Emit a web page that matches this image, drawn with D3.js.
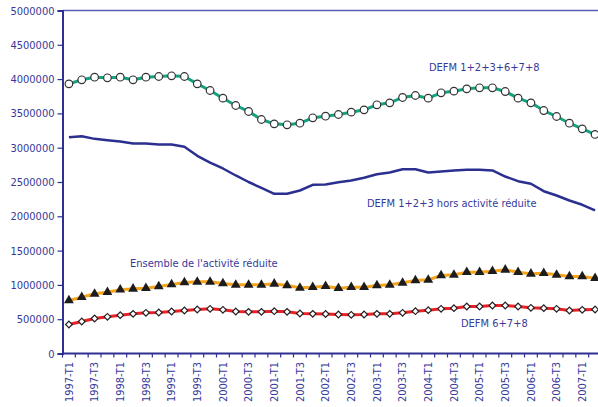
<!DOCTYPE html>
<html>
<head>
<meta charset="utf-8">
<script src="https://cdn.jsdelivr.net/npm/d3@7"></script>
<style>
  body { margin: 0; background: #fff; }
  text { font-family: "DejaVu Sans Condensed", "DejaVu Sans", sans-serif; }
</style>
</head>
<body>
<div id="chart"></div>
<script>
// quarters 1997-T1 .. 2007-T2
let quarters = [];
for (let yr = 1997; yr <= 2007; yr++)
  for (let q = 1; q <= 4; q++) quarters.push(yr + "-T" + q);
quarters = quarters.slice(0, 42);

let yTicks = [0, 500000, 1000000, 1500000, 2000000, 2500000, 3000000, 3500000, 4000000, 4500000, 5000000];

// DEFM 1+2+3+6+7+8
let defmTotal = [3931000, 3990000, 4028000, 4019000, 4028000, 3990000, 4028000, 4038000, 4048000, 4038000,
  3931000, 3834000, 3722000, 3615000, 3528000, 3411000, 3348000, 3334000, 3357000, 3436000,
  3459000, 3484000, 3518000, 3552000, 3625000, 3654000, 3732000, 3761000, 3722000, 3800000,
  3824000, 3858000, 3873000, 3873000, 3819000, 3722000, 3654000, 3542000, 3455000, 3357000,
  3275000, 3193000];

// DEFM 1+2+3 hors activité réduite
let defmHorsAR = [3153000, 3168000, 3129000, 3110000, 3090000, 3061000, 3061000, 3047000, 3047000, 3013000,
  2882000, 2784000, 2697000, 2595000, 2500000, 2413000, 2328000, 2328000, 2376000, 2459000,
  2464000, 2497000, 2522000, 2561000, 2614000, 2638000, 2687000, 2687000, 2638000, 2653000,
  2668000, 2678000, 2678000, 2668000, 2580000, 2512000, 2474000, 2366000, 2303000, 2230000,
  2168000, 2085000];

// Ensemble de l'activité réduite
let activiteReduite = [773000, 821000, 870000, 894000, 929000, 943000, 952000, 977000, 1006000, 1035000,
  1045000, 1045000, 1020000, 1001000, 1001000, 1001000, 1016000, 991000, 957000, 967000,
  980000, 952000, 967000, 967000, 991000, 1001000, 1030000, 1064000, 1074000, 1137000,
  1147000, 1185000, 1185000, 1200000, 1220000, 1185000, 1162000, 1171000, 1147000, 1122000,
  1122000, 1098000];

// DEFM 6+7+8
let defm678 = [423000, 466000, 510000, 535000, 559000, 578000, 593000, 598000, 612000, 627000,
  641000, 651000, 637000, 612000, 607000, 607000, 617000, 607000, 583000, 578000,
  576000, 568000, 564000, 568000, 578000, 578000, 593000, 617000, 632000, 651000,
  661000, 685000, 685000, 700000, 700000, 685000, 666000, 661000, 651000, 627000,
  637000, 641000];

let W = 598, H = 407;
let margin = { top: 10.5, left: 62.5 };
let plotW = 539, plotH = 343;

let textCol = "#36399a", axisCol = "#2e3192";

let svg = d3.select("#chart").append("svg")
  .attr("width", W)
  .attr("height", H);

let g = svg.append("g")
  .attr("transform", `translate(${margin.left},${margin.top})`);

let x = d3.scaleBand().domain(quarters).range([0, plotW]).padding(0);
let y = d3.scaleLinear().domain([0, 5000000]).range([plotH, 0]);
let cx = d => x(d) + x.bandwidth() / 2;

// top frame line
g.append("line")
  .attr("x1", 0).attr("x2", plotW)
  .attr("y1", y(5000000)).attr("y2", y(5000000))
  .attr("stroke", "#5a5eb4").attr("stroke-width", 1.5);

// y axis
let yAxis = g.append("g")
  .call(d3.axisLeft(y).tickValues(yTicks).tickSize(5).tickPadding(3).tickFormat(d3.format("d")));
yAxis.select(".domain").attr("stroke", axisCol).attr("stroke-width", 2);
yAxis.selectAll(".tick line").attr("stroke", axisCol).attr("stroke-width", 1.2);
yAxis.selectAll(".tick text").attr("fill", textCol).style("font-size", "11px")
  .style("font-family", "'DejaVu Sans Condensed', 'DejaVu Sans', sans-serif");

// x axis
let xAxis = g.append("g").attr("transform", `translate(0,${plotH})`);
xAxis.append("line")
  .attr("x1", 0).attr("x2", plotW)
  .attr("stroke", axisCol).attr("stroke-width", 2);
let bounds = quarters.map(q => x(q)).concat([plotW]);
xAxis.selectAll(".xt")
  .data(bounds)
  .join("line")
  .attr("class", "xt")
  .attr("x1", d => d).attr("x2", d => d)
  .attr("y1", 0).attr("y2", 4)
  .attr("stroke", axisCol).attr("stroke-width", 1.2);
xAxis.selectAll(".xl")
  .data(quarters.filter((q, i) => i % 2 === 0))
  .join("text")
  .attr("class", "xl")
  .attr("transform", d => `translate(${cx(d)},8.5) rotate(-90)`)
  .attr("text-anchor", "end")
  .attr("dy", "0.35em")
  .attr("fill", textCol)
  .style("font-size", "11px")
  .text(d => d);

let line = d3.line().x((d, i) => cx(quarters[i])).y(d => y(d));

// series lines
g.append("path").datum(defmHorsAR)
  .attr("fill", "none").attr("stroke", "#2b2f8f").attr("stroke-width", 2.5)
  .attr("stroke-linejoin", "round").attr("d", line);

g.append("path").datum(defmTotal)
  .attr("fill", "none").attr("stroke", "#14a37f").attr("stroke-width", 3)
  .attr("stroke-linejoin", "round").attr("d", line);

g.append("path").datum(activiteReduite)
  .attr("fill", "none").attr("stroke", "#f7a41d").attr("stroke-width", 3)
  .attr("stroke-linejoin", "round").attr("d", line);

g.append("path").datum(defm678)
  .attr("fill", "none").attr("stroke", "#ec2027").attr("stroke-width", 3)
  .attr("stroke-linejoin", "round").attr("d", line);

// markers
g.selectAll(".circ")
  .data(defmTotal)
  .join("circle")
  .attr("class", "circ")
  .attr("cx", (d, i) => cx(quarters[i]))
  .attr("cy", d => y(d))
  .attr("r", 3.8)
  .attr("fill", "#fff").attr("stroke", "#333").attr("stroke-width", 1.2);

g.selectAll(".tri")
  .data(activiteReduite)
  .join("path")
  .attr("class", "tri")
  .attr("transform", (d, i) => `translate(${cx(quarters[i])},${y(d)})`)
  .attr("d", d3.symbol(d3.symbolTriangle).size(42))
  .attr("fill", "#1c1c1c");

g.selectAll(".dia")
  .data(defm678)
  .join("path")
  .attr("class", "dia")
  .attr("transform", (d, i) => `translate(${cx(quarters[i])},${y(d)}) rotate(45)`)
  .attr("d", d3.symbol(d3.symbolSquare).size(22))
  .attr("fill", "#fff").attr("stroke", "#222").attr("stroke-width", 1.2);

// series labels
let labels = [
  { text: "DEFM 1+2+3+6+7+8", x: 429, y: 70.5 },
  { text: "DEFM 1+2+3 hors activité réduite", x: 367, y: 206.5 },
  { text: "Ensemble de l'activité réduite", x: 130, y: 266.5 },
  { text: "DEFM 6+7+8", x: 461, y: 326.5 }
];
svg.selectAll(".lab")
  .data(labels)
  .join("text")
  .attr("class", "lab")
  .attr("x", d => d.x)
  .attr("y", d => d.y)
  .attr("fill", textCol)
  .style("font-size", "11px")
  .text(d => d.text);
</script>
</body>
</html>
